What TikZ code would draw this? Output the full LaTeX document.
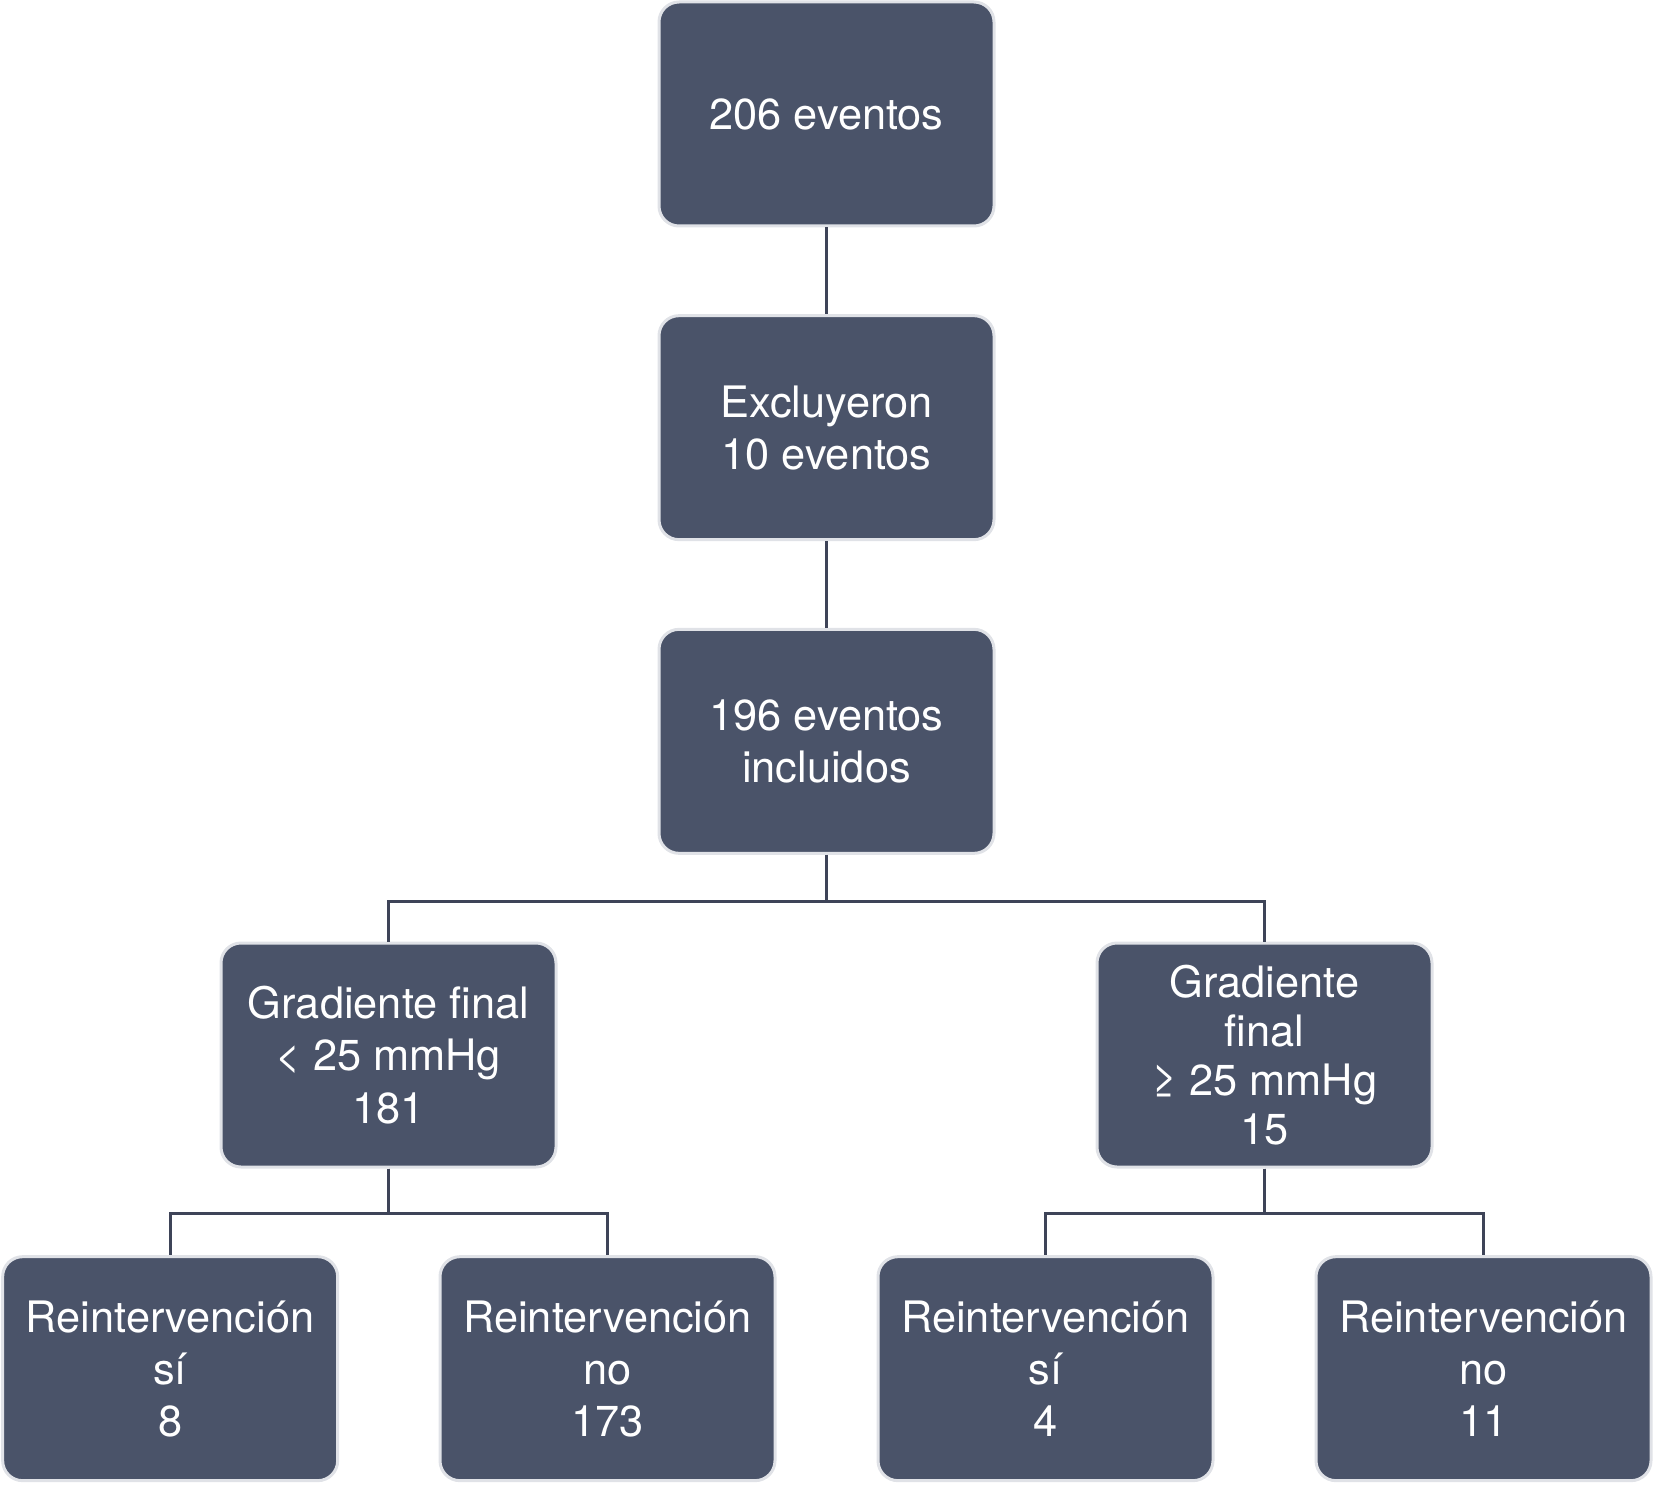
\documentclass[tikz,border=0pt]{standalone}
\usepackage{fontspec}
\setmainfont{TeX Gyre Heros}
\usepackage{tikz}
\usetikzlibrary{positioning}

\definecolor{boxfill}{RGB}{74,83,105}
\definecolor{boxrim}{RGB}{224,226,231}
\definecolor{wire}{RGB}{62,68,88}

\begin{document}
\begin{tikzpicture}[node distance=9.41cm,on grid]
       \tikzstyle{every node}=[rectangle, rounded corners=0.6cm, fill=boxfill, draw=boxrim,
         line width=0.09cm, text=white, align=center, minimum width=10.05cm, minimum height=6.72cm,
         font=\fontsize{37}{44.5}\selectfont]
       \tikzstyle{link}=[draw=wire, line width=0.1cm]

       \useasboundingbox (0,0) rectangle (49.62,-44.55);

       \node (total) at (24.795,-3.42) {206 eventos};
       \node (excl) [below =of total] {Excluyeron\\10 eventos};
       \node (incl) [below =of excl] {196 eventos\\incluidos};
       \node (low) [below left =9.41cm and 13.14cm of incl] {Gradiente final\\< 25 mmHg\\181};
       \node (high) [below right =9.41cm and 13.14cm of incl,
         font=\fontsize{37}{41.8}\selectfont] {Gradiente\\final\\≥ 25 mmHg\\15};
       \node (low_si) [below left =9.41cm and 6.55cm of low] {Reintervención\\sí\\8};
       \node (low_no) [below right =9.41cm and 6.57cm of low] {Reintervención\\no\\173};
       \node (high_si) [below left =9.41cm and 6.57cm of high] {Reintervención\\sí\\4};
       \node (high_no) [below right =9.41cm and 6.57cm of high] {Reintervención\\no\\11};

       \path[link]
       (total) edge (excl)
       (excl) edge (incl);
       \draw[link] (incl.south) -- ++(0,-1.4) -| (low.north);
       \draw[link] (incl.south) -- ++(0,-1.4) -| (high.north);
       \draw[link] (low.south) -- ++(0,-1.35) -| (low_si.north);
       \draw[link] (low.south) -- ++(0,-1.35) -| (low_no.north);
       \draw[link] (high.south) -- ++(0,-1.35) -| (high_si.north);
       \draw[link] (high.south) -- ++(0,-1.35) -| (high_no.north);

     \end{tikzpicture}
\end{document}
